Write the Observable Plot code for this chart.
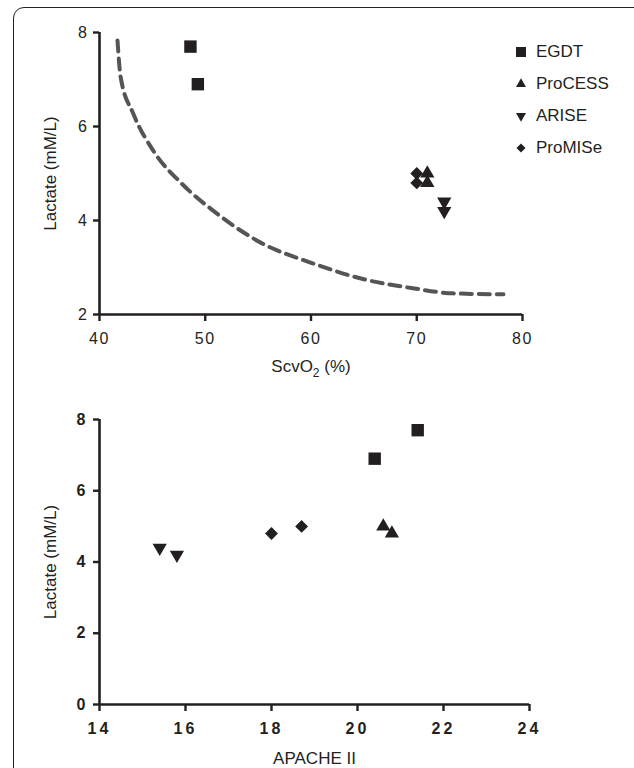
<!DOCTYPE html>
<html><head><meta charset="utf-8">
<script src="https://cdn.jsdelivr.net/npm/d3@7"></script>
<script src="https://cdn.jsdelivr.net/npm/@observablehq/plot@0.6"></script>
<style>
html,body{margin:0;padding:0;background:#fff;overflow:hidden;width:634px;height:768px;}
body{position:relative;font-family:"Liberation Sans",Arial,sans-serif;color:#231f20;}
#frame{position:absolute;left:13px;top:7px;width:720px;height:820px;border:1.6px solid #222;border-radius:11px;}
.chart{position:absolute;left:0;}
#topChart{top:0}
#bottomChart{top:384px}
#legend{position:absolute;left:510px;top:36px;font-size:17px;}
#legend .item{height:32px;display:flex;align-items:center;}
#legend svg{width:22px;height:22px;margin-right:4px;}
#topChart g[aria-label="x-axis tick label"] text,#topChart g[aria-label="y-axis tick label"] text{letter-spacing:1.5px;}
#bottomChart g[aria-label="x-axis tick label"] text,#bottomChart g[aria-label="y-axis tick label"] text{letter-spacing:3px;font-weight:bold;}
</style>
</head><body>
<div id="frame"></div>
<div id="topChart" class="chart"></div>
<div id="bottomChart" class="chart"></div>
<div id="legend"></div>
<script>
// ---- data ----
const studies = ["EGDT", "ProCESS", "ARISE", "ProMISe"];
const study   = ["EGDT", "EGDT", "ProCESS", "ProCESS", "ARISE", "ARISE", "ProMISe", "ProMISe"];
const scvo2   = [48.6, 49.3, 71.0, 71.0, 72.6, 72.6, 70.0, 70.0];
const lactate = [7.7, 6.9, 5.0, 4.8, 4.4, 4.2, 5.0, 4.8];
const apache  = [21.4, 20.4, 20.6, 20.8, 15.4, 15.8, 18.7, 18.0];
// dashed reference curve
const curveScvo2   = [41.7, 42.0, 43.2, 45.1, 47.8, 50.8, 55.0, 60.4, 65.0, 69.6, 73.4, 78.2];
const curveLactate = [7.83, 7.05, 6.27, 5.48, 4.78, 4.20, 3.56, 3.07, 2.75, 2.56, 2.45, 2.43];
// ticks and labels
const xTicksTop = [40, 50, 60, 70, 80];
const yTicksTop = [2, 4, 6, 8];
const xTicksBottom = [14, 16, 18, 20, 22, 24];
const yTicksBottom = [0, 2, 4, 6, 8];
const yLabel = "Lactate (mM/L)";
const xLabelBottom = "APACHE II";

const ink = "#231f20";
const symbolStyle = {
  EGDT:    {symbol: "square",   r: 7.0, rotate: 0},
  ProCESS: {symbol: "triangle", r: 5.3, rotate: 0},
  ARISE:   {symbol: "triangle", r: 5.3, rotate: 180},
  ProMISe: {symbol: "diamond2", r: 5.8, rotate: 0}
};
const idx = d3.range(study.length);

function seriesMarks(xArr) {
  return studies.map(s => Plot.dot(idx.filter(i => study[i] === s), {
    x: i => xArr[i], y: i => lactate[i],
    symbol: symbolStyle[s].symbol, r: symbolStyle[s].r, rotate: symbolStyle[s].rotate,
    fill: ink, stroke: "none"
  }));
}
const baseStyle = {background: "transparent", color: ink, fontFamily: "Liberation Sans, Arial, sans-serif", fontSize: "16px"};

const topPlot = Plot.plot({
  width: 634, height: 384,
  marginLeft: 99, marginRight: 112, marginTop: 32, marginBottom: 70,
  style: baseStyle,
  x: {domain: [xTicksTop[0], xTicksTop[xTicksTop.length - 1]]},
  y: {domain: [yTicksTop[0], yTicksTop[yTicksTop.length - 1]]},
  marks: [
    Plot.line(d3.range(curveScvo2.length), {x: i => curveScvo2[i], y: i => curveLactate[i], curve: "monotone-x",
      stroke: "#555", strokeWidth: 4, strokeDasharray: "11,7"}),
    ...seriesMarks(scvo2),
    Plot.ruleY([yTicksTop[0]], {x1: xTicksTop[0], x2: xTicksTop[xTicksTop.length - 1], stroke: ink, strokeWidth: 2.6}),
    Plot.ruleX([xTicksTop[0]], {y1: yTicksTop[0], y2: yTicksTop[yTicksTop.length - 1], stroke: ink, strokeWidth: 2.6}),
    Plot.axisX({ticks: xTicksTop, tickFormat: "d", tickSize: 7, tickPadding: 11, strokeWidth: 2.4, fontSize: 16,
      label: "ScvO2 (%)", labelAnchor: "center", labelOffset: 57}),
    Plot.axisY({ticks: yTicksTop, tickFormat: "d", tickSize: 6, tickPadding: 5, strokeWidth: 2.4, fontSize: 16,
      label: yLabel, labelAnchor: "center", labelOffset: 56})
  ]
});
document.getElementById("topChart").append(topPlot);

const bottomPlot = Plot.plot({
  width: 634, height: 384,
  marginLeft: 99, marginRight: 105, marginTop: 35, marginBottom: 64,
  style: baseStyle,
  x: {domain: [xTicksBottom[0], xTicksBottom[xTicksBottom.length - 1]]},
  y: {domain: [yTicksBottom[0], yTicksBottom[yTicksBottom.length - 1]]},
  marks: [
    ...seriesMarks(apache),
    Plot.ruleY([yTicksBottom[0]], {x1: xTicksBottom[0], x2: xTicksBottom[xTicksBottom.length - 1], stroke: ink, strokeWidth: 2.6}),
    Plot.ruleX([xTicksBottom[0]], {y1: yTicksBottom[0], y2: yTicksBottom[yTicksBottom.length - 1], stroke: ink, strokeWidth: 2.6}),
    Plot.axisX({ticks: xTicksBottom, tickFormat: "d", tickSize: 7, tickPadding: 11, strokeWidth: 2.4, fontSize: 16,
      label: xLabelBottom, labelAnchor: "center", labelOffset: 59}),
    Plot.axisY({ticks: yTicksBottom, tickFormat: "d", tickSize: 6, tickPadding: 5, strokeWidth: 2.4, fontSize: 16,
      label: yLabel, labelAnchor: "center", labelOffset: 56})
  ]
});
document.getElementById("bottomChart").append(bottomPlot);

// axis label font sizes, no arrows, subscript
document.querySelectorAll('g[aria-label="x-axis label"] text, g[aria-label="y-axis label"] text').forEach(t => t.setAttribute("font-size", 17));
document.querySelectorAll('g[aria-label="y-axis label"] text').forEach(t => { t.textContent = yLabel; });
const bxl = bottomPlot.querySelector('g[aria-label="x-axis label"] text');
if (bxl) bxl.textContent = xLabelBottom;
const xl = topPlot.querySelector('g[aria-label="x-axis label"] text');
if (xl) {
  xl.textContent = "";
  const ns = "http://www.w3.org/2000/svg";
  const a = document.createElementNS(ns, "tspan"); a.textContent = "ScvO";
  const b = document.createElementNS(ns, "tspan"); b.textContent = "2"; b.setAttribute("dy", "5"); b.setAttribute("font-size", "12");
  const c = document.createElementNS(ns, "tspan"); c.textContent = " (%)"; c.setAttribute("dy", "-5");
  xl.append(a, b, c);
}

// legend
const legendSize = {EGDT: 100, ProCESS: 43, ARISE: 43, ProMISe: 52};
const symMap = {square: d3.symbolSquare, triangle: d3.symbolTriangle, diamond2: d3.symbolDiamond2};
const leg = d3.select("#legend");
studies.forEach(s => {
  const item = leg.append("div").attr("class", "item");
  const svg = item.append("svg").attr("viewBox", "-11 -11 22 22");
  svg.append("path")
    .attr("d", d3.symbol(symMap[symbolStyle[s].symbol], legendSize[s])())
    .attr("transform", `rotate(${symbolStyle[s].rotate})`)
    .attr("fill", ink);
  item.append("span").text(s);
});
</script>
</body></html>
